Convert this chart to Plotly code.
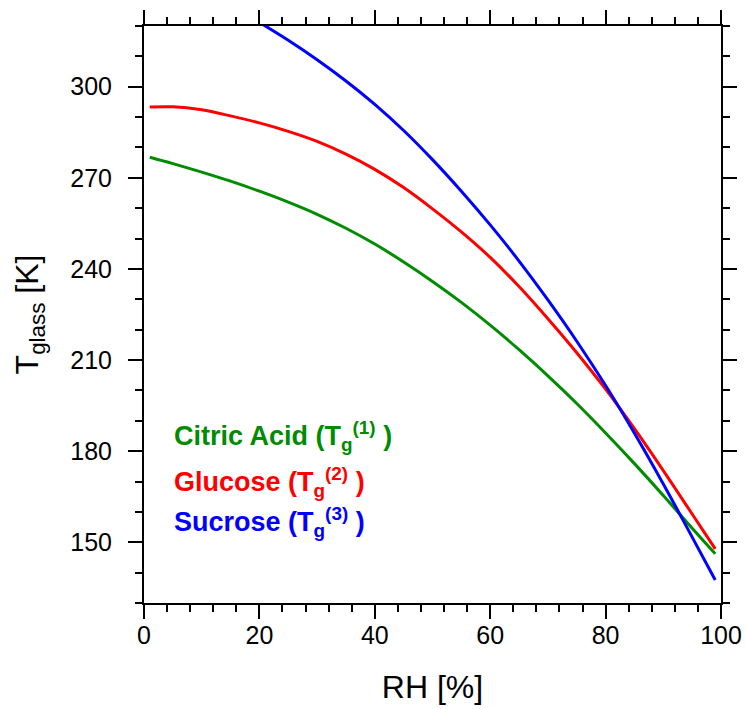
import plotly.graph_objects as go

# Relative humidity [%]
rh = [1, 5, 10, 15, 20, 25, 30, 35, 40, 45, 50, 55, 60, 65, 70, 75, 80, 85, 90, 95, 99]
# Glass transition temperatures [K]
tg_citric = [276.8, 274.7, 271.9, 268.9, 265.6, 262.0, 258.0, 253.4, 248.2, 242.3, 235.9,
             229.0, 221.5, 213.4, 204.8, 195.7, 186.0, 175.9, 165.4, 154.6, 146.2]
tg_glucose = [293.3, 293.4, 292.4, 290.4, 288.1, 285.3, 282.0, 277.8, 272.8, 266.8, 259.8,
              252.2, 243.8, 234.2, 223.6, 212.4, 200.4, 187.4, 173.6, 159.3, 147.8]
rh_suc = [20, 25, 30, 35, 40, 45, 50, 55, 60, 65, 70, 75, 80, 85, 90, 95, 99]
tg_sucrose = [321.2, 315.3, 308.9, 301.9, 294.2, 285.6, 276.0, 265.6, 254.5, 242.6, 229.8,
              216.2, 201.6, 185.9, 169.2, 151.7, 137.6]

names = ["Citric Acid", "Glucose", "Sucrose"]
colors = ["#008c00", "#ff0000", "#0000ff"]
sups = ["(1)", "(2)", "(3)"]
label_y = [184.9, 169.8, 156.6]

fig = go.Figure()
for xs, ys, c in [(rh, tg_citric, colors[0]), (rh, tg_glucose, colors[1]), (rh_suc, tg_sucrose, colors[2])]:
    fig.add_trace(go.Scatter(x=xs, y=ys, mode="lines",
                             line=dict(color=c, width=3, shape="spline", smoothing=1.0)))

for n, c, s, yy in zip(names, colors, sups, label_y):
    fig.add_annotation(x=4.9, y=yy, xref="x", yref="y", xanchor="left", yanchor="middle",
                       showarrow=False,
                       text=f"<b>{n} (T<sub>g</sub><sup>{s}</sup> )</b>",
                       font=dict(family="Liberation Sans", size=27, color=c))

axis_common = dict(showline=True, linecolor="black", linewidth=2, mirror="ticks",
                   ticks="outside", ticklen=14, tickwidth=2, tickcolor="black",
                   showgrid=False, zeroline=False, automargin=False,
                   tickfont=dict(family="Liberation Sans", size=25, color="black"))

fig.update_xaxes(range=[0, 100], tick0=0, dtick=20,
                 minor=dict(ticks="outside", ticklen=7, tickwidth=1.5, tickcolor="black",
                            dtick=4, tick0=0, showgrid=False),
                 title=dict(text="RH [%]", font=dict(family="Liberation Sans", size=32, color="black"),
                            standoff=28),
                 ticklabelstandoff=-5,
                 **axis_common)
fig.update_yaxes(range=[130, 320], tick0=150, dtick=30,
                 minor=dict(ticks="outside", ticklen=7, tickwidth=1.5, tickcolor="black",
                            dtick=10, tick0=130, showgrid=False),
                 title=dict(text="T<sub>glass</sub> [K]",
                            font=dict(family="Liberation Sans", size=32, color="black"),
                            standoff=22),
                 ticklabelstandoff=11,
                 **axis_common)

fig.update_layout(width=746, height=709, showlegend=False,
                  margin=dict(l=144, r=25, t=26, b=106),
                  plot_bgcolor="white", paper_bgcolor="white")

fig.write_html("out.html", config={"displayModeBar": False},
               post_script="document.body.style.margin='0';document.body.style.overflow='hidden';")
